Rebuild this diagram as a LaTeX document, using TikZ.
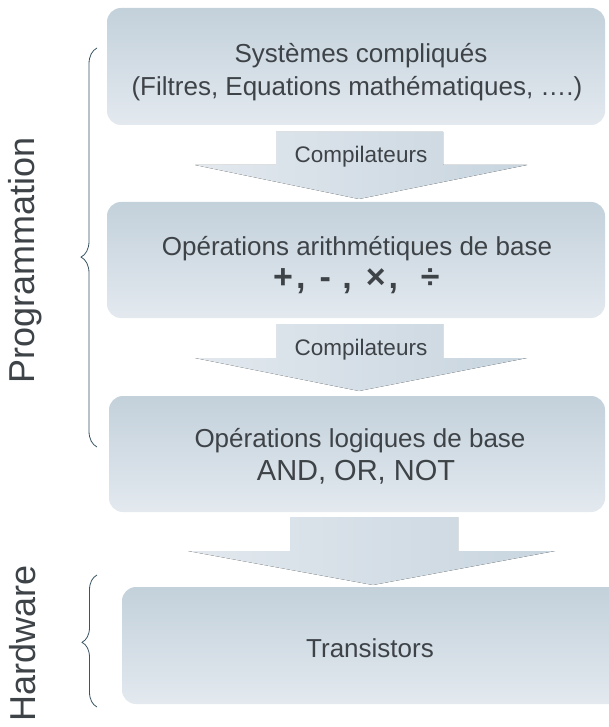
\documentclass[tikz,border=0pt]{standalone}
\usepackage{fontspec}
\setmainfont{Liberation Sans}
\usetikzlibrary{decorations.pathreplacing}
\definecolor{txt}{HTML}{3E4348}
\definecolor{boxtop}{HTML}{C3D1DB}
\definecolor{boxbot}{HTML}{E3E9EF}
\definecolor{arrL}{HTML}{E2E8EE}
\definecolor{arrR}{HTML}{C8D5DF}
\definecolor{brc}{HTML}{3A5563}
\tikzset{
  blk/.style={rounded corners=14pt, top color=boxtop, bottom color=boxbot, draw=none, inner sep=0pt},
  lbl/.style={text=txt, font=\fontsize{26}{30}\selectfont, anchor=base, inner sep=0pt},
  sml/.style={text=txt, font=\fontsize{22.5}{26}\selectfont, anchor=base, inner sep=0pt},
  big/.style={text=txt, font=\fontsize{36}{40}\selectfont, rotate=90, inner sep=0pt},
  blockarrow/.style={left color=arrL, right color=arrR, draw=none},
  curly/.style={draw=brc, line width=0.8pt, decorate},
}
\begin{document}
\begin{tikzpicture}[x=1pt,y=-1pt]
\useasboundingbox (0,0) rectangle (608,727);
\fill[white] (0,0) rectangle (608,727);

% boxes
\node[blk, minimum width=498pt, minimum height=117pt] (b1) at (356,66.5) {};
\node[blk, minimum width=498pt, minimum height=116pt] (b2) at (356,260) {};
\node[blk, minimum width=496pt, minimum height=116pt] (b3) at (357,454) {};
\node[blk, minimum width=508pt, minimum height=117pt] (b4) at (376,645.5) {};

% block arrows
\fill[blockarrow] (276,132) -- (443,132) -- (443,165) -- (527,165) -- (359,199) -- (195,165) -- (276,165) -- cycle;
\fill[blockarrow] (276,324) -- (443,324) -- (443,358) -- (527,358) -- (359,391) -- (195,358) -- (276,358) -- cycle;
\fill[blockarrow] (290,517) -- (458,517) -- (458,551) -- (555,551) -- (373,585) -- (188,551) -- (290,551) -- cycle;

% texts
\node[lbl] (t1a) at (361,63) {Systèmes compliqués};
\node[lbl] (t1b) at (357,96) {(Filtres, Equations mathématiques, ….)};
\node[sml] (c1) at (361,163) {Compilateurs};
\node[lbl] (t2a) at (357,255) {Opérations arithmétiques de base};
\node[lbl, anchor=base west, font=\fontsize{34}{36}\selectfont\bfseries] (t2b) at (273,288) {+\hspace{3pt},\hspace{14pt}-\hspace{11.6pt},\hspace{14pt}×\hspace{3pt},\hspace{22.6pt}÷};
\node[sml] (c2) at (361,355) {Compilateurs};
\node[lbl] (t3a) at (360,447) {Opérations logiques de base};
\node[lbl, font=\fontsize{29}{32}\selectfont] (t3b) at (356,480) {AND, OR, NOT};
\node[lbl] (t4) at (370,657) {Transistors};

% side labels
\node[big] (prog) at (25,260) {Programmation};
\node[big] (hard) at (23,643) {Hardware};

% braces
\draw[curly, decoration={brace, amplitude=16pt, aspect=0.476}] (97,447) -- (97,48);
\draw[curly, decoration={brace, amplitude=15pt, aspect=0.49}] (97,707) -- (97,575);
\end{tikzpicture}
\end{document}
